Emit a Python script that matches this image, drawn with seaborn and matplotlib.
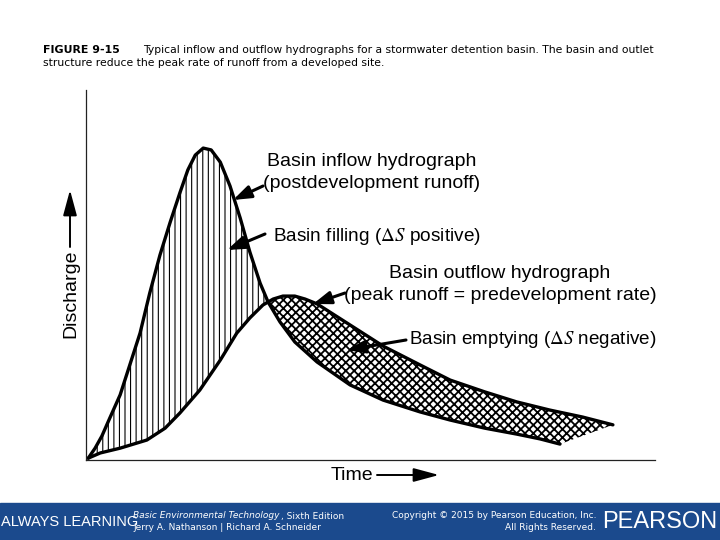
import numpy as np
import pandas as pd
import seaborn as sns
import matplotlib
matplotlib.use('Agg')
from matplotlib import pyplot as plt
from matplotlib.patches import Rectangle

# hydrograph values (time and discharge in % of axis span)
inflow_t = [0.4, 1.6, 2.8, 4.2, 6.0, 7.7, 9.5, 11.2, 13.0, 14.8, 16.5, 17.9, 19.2, 20.6, 22.0, 23.6,
            25.3, 27.1, 28.8, 30.6, 32.0, 34.1, 36.7, 40.6, 46.4, 52.2, 58.7, 64.0, 70.1, 75.7, 79.8, 83.3]
inflow_q = [0.5, 3.2, 6.5, 11.4, 17.6, 25.7, 34.3, 45.1, 55.4, 64.3, 72.2, 78.4, 82.4, 84.3, 83.8, 80.5,
            74.1, 65.4, 56.2, 47.8, 42.7, 37.3, 31.9, 26.5, 20.3, 16.2, 13.0, 10.8, 8.6, 7.0, 5.7, 4.3]
outflow_t = [0.4, 2.5, 6.0, 10.7, 13.9, 16.5, 20.0, 23.6, 26.5, 28.8, 31.1, 32.9, 34.6, 36.7, 38.5,
             40.6, 46.4, 52.2, 58.7, 64.0, 70.1, 75.7, 81.5, 87.3, 92.6]
outflow_q = [0.5, 1.9, 3.2, 5.4, 8.6, 12.7, 18.9, 27.0, 34.3, 38.4, 41.9, 43.5, 44.3, 44.3, 43.5,
             42.2, 36.5, 30.8, 25.7, 21.6, 18.4, 15.7, 13.5, 11.6, 9.5]
cross_in = 20   # inflow point where the two curves meet
cross_out = 11  # first outflow point past the crossing

inflow = pd.DataFrame({'time': inflow_t, 'discharge': inflow_q})
outflow = pd.DataFrame({'time': outflow_t, 'discharge': outflow_q})

sns.set_theme(style='white')
plt.rcParams['font.family'] = ['Liberation Sans', 'DejaVu Sans']
plt.rcParams['text.color'] = 'black'
plt.rcParams['mathtext.fontset'] = 'stix'
plt.rcParams['hatch.linewidth'] = 0.8
plt.rcParams['hatch.color'] = 'black'

W, H = 720, 540
fig = plt.figure(figsize=(7.2, 5.4), dpi=100)
fig.patch.set_facecolor('white')


def fp(x, y):
    # top-left pixel position -> figure fraction
    return x / W, 1 - y / H


def fpix(x, y):
    return x, H - y


ax = fig.add_axes([86 / W, 80 / H, 569 / W, 370 / H])

# storage areas between the hydrographs
fill_x = inflow_t[:cross_in + 1] + outflow_t[:cross_out][::-1]
fill_y = inflow_q[:cross_in + 1] + outflow_q[:cross_out][::-1]
filling = ax.fill(fill_x, fill_y, facecolor='none', edgecolor='black', hatch='|||', lw=0)[0]

empty_x = [inflow_t[cross_in]] + outflow_t[cross_out:] + inflow_t[cross_in:][::-1]
empty_y = [inflow_q[cross_in]] + outflow_q[cross_out:] + inflow_q[cross_in:][::-1]
emptying = ax.fill(empty_x, empty_y, facecolor='none', edgecolor='black', hatch='xxxx', lw=0)[0]
if hasattr(emptying, 'set_hatch_linewidth'):
    filling.set_hatch_linewidth(0.8)
    emptying.set_hatch_linewidth(1.3)

sns.lineplot(data=inflow, x='time', y='discharge', sort=False, color='black', lw=2.4,
             solid_joinstyle='round', ax=ax)
sns.lineplot(data=outflow, x='time', y='discharge', sort=False, color='black', lw=2.4,
             solid_joinstyle='round', ax=ax)

ax.set_xlim(0, 100)
ax.set_ylim(0, 100)
ax.set_xticks([])
ax.set_yticks([])
ax.set_xlabel('')
ax.set_ylabel('')
sns.despine(ax=ax)
for s in ['left', 'bottom']:
    ax.spines[s].set_color('#222222')
    ax.spines[s].set_linewidth(0.9)

# axis labels with arrows
fig.text(*fp(71, 294), 'Discharge', rotation=90, fontsize=14, ha='center', va='center')
fig.text(*fp(352, 475), 'Time', fontsize=14, ha='center', va='center')
arr = dict(arrowstyle='-|>,head_length=1.3,head_width=0.35', color='black', lw=1.4,
           shrinkA=0, shrinkB=0)
ax.annotate('', xy=fpix(70, 190), xytext=fpix(70, 247), xycoords='figure pixels',
            textcoords='figure pixels', arrowprops=arr)
ax.annotate('', xy=fpix(439, 475), xytext=fpix(377, 475), xycoords='figure pixels',
            textcoords='figure pixels', arrowprops=arr)

# callouts
fig.text(*fp(372, 162), 'Basin inflow hydrograph', fontsize=14, ha='center', va='center')
fig.text(*fp(372, 183), '(postdevelopment runoff)', fontsize=14, ha='center', va='center')
fig.text(*fp(273, 236), r'Basin filling ($\Delta S$ positive)', fontsize=13.7, ha='left', va='center')
fig.text(*fp(500, 274), 'Basin outflow hydrograph', fontsize=14, ha='center', va='center')
fig.text(*fp(500, 295), '(peak runoff = predevelopment rate)', fontsize=14, ha='center', va='center')
fig.text(*fp(409, 340), r'Basin emptying ($\Delta S$ negative)', fontsize=13.6, ha='left', va='center')

callout = dict(arrowstyle='-|>,head_length=0.9,head_width=0.32', color='black', lw=2.2,
               shrinkA=0, shrinkB=0)
for tail, tip in [((263, 186), (233, 200)), ((265, 234), (227, 250)),
                  ((345, 293), (313, 304)), ((406, 340), (347, 350))]:
    ax.annotate('', xy=fpix(*tip), xytext=fpix(*tail), xycoords='figure pixels',
                textcoords='figure pixels', arrowprops=callout)

# caption
fig.text(*fp(43, 50), 'FIGURE 9-15', fontsize=7.9, weight='bold', family='DejaVu Sans', va='center')
fig.text(*fp(143, 50), 'Typical inflow and outflow hydrographs for a stormwater detention basin. '
         'The basin and outlet', fontsize=7.75, family='DejaVu Sans', va='center')
fig.text(*fp(43, 63), 'structure reduce the peak rate of runoff from a developed site.',
         fontsize=7.75, family='DejaVu Sans', va='center')

# publisher banner
blue = '#1b4a8d'
fig.patches.append(Rectangle((0, 0), 1, 37 / H, transform=fig.transFigure, color=blue, zorder=0))
fig.text(*fp(1, 522), 'ALWAYS LEARNING', fontsize=10.5, color='white', va='center')
fig.text(*fp(133, 516), 'Basic Environmental Technology', fontsize=6.5, style='italic',
         color='white', family='DejaVu Sans', va='center')
fig.text(*fp(281, 516), ', Sixth Edition', fontsize=6.5, color='white', family='DejaVu Sans',
         va='center')
fig.text(*fp(133, 528), 'Jerry A. Nathanson | Richard A. Schneider', fontsize=6.5, color='white',
         family='DejaVu Sans', va='center')
fig.text(*fp(596, 516), 'Copyright \u00a9 2015 by Pearson Education, Inc.', fontsize=6.5,
         color='white', family='DejaVu Sans', ha='right', va='center')
fig.text(*fp(596, 528), 'All Rights Reserved.', fontsize=6.5, color='white',
         family='DejaVu Sans', ha='right', va='center')
fig.text(*fp(660, 522), 'PEARSON', fontsize=17, color='white', ha='center', va='center')

fig.savefig('out.png', dpi=100)
